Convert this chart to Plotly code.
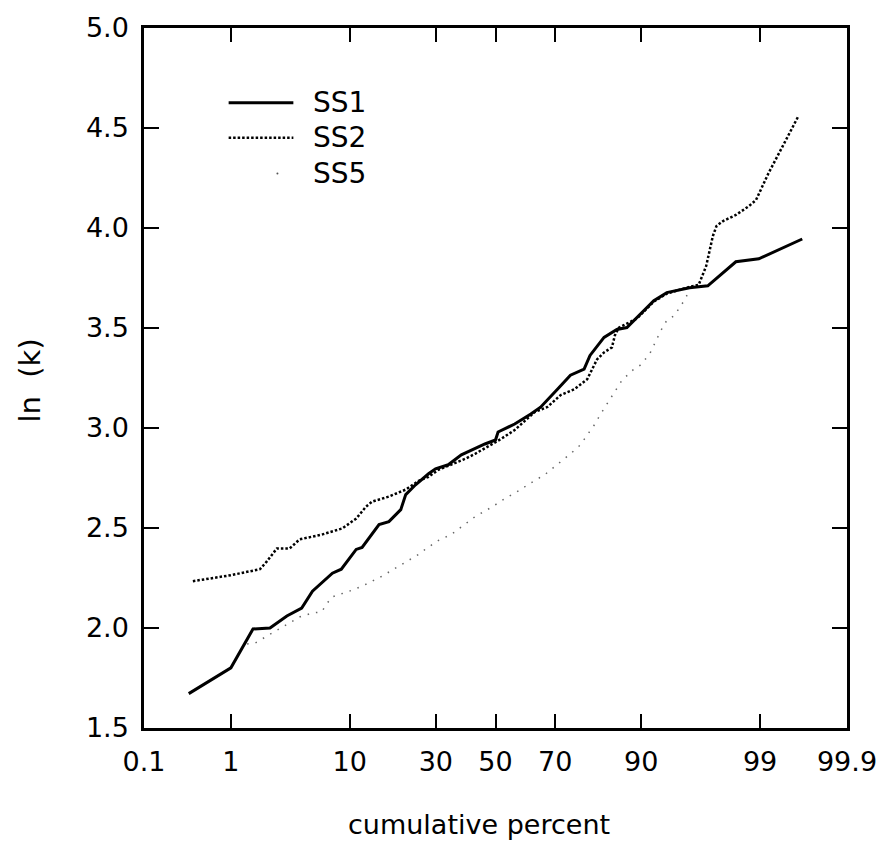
from statistics import NormalDist
import plotly.graph_objects as go

# Cumulative percent (probability scale) and ln(k) for each series
ss1_pct = [0.35, 1.0, 1.65, 2.37, 3.33, 4.42, 5.38, 7.58, 8.76, 11.03, 12.04, 15.29,
           17.43, 20.25, 21.5, 24.1, 27.8, 29.9, 33.9, 38.2, 46.3, 50.0, 50.9, 56.7,
           62.2, 65.4, 70.7, 74.5, 78.2, 79.7, 83.0, 85.7, 87.6, 89.3, 91.8, 93.4,
           95.6, 96.9, 98.27, 98.97, 99.65]
ss1_lnk = [1.672, 1.801, 1.995, 2.0, 2.06, 2.10, 2.184, 2.274, 2.294, 2.393, 2.403, 2.517,
           2.532, 2.592, 2.667, 2.716, 2.771, 2.796, 2.816, 2.866, 2.920, 2.940, 2.980, 3.02,
           3.07, 3.104, 3.194, 3.264, 3.294, 3.363, 3.453, 3.493, 3.502, 3.552, 3.637, 3.677,
           3.701, 3.711, 3.831, 3.846, 3.945]

ss2_pct = [0.39, 1.0, 1.92, 2.22, 2.73, 3.52, 4.25, 5.1, 6.41, 8.9, 10.24, 11.03, 12.76,
           13.9, 17.43, 21.5, 24.96, 27.8, 30.8, 35.5, 39.5, 42.9, 51.9, 56.7, 60.1, 63.5,
           67.6, 71.6, 75.6, 79.0, 81.4, 83.0, 84.7, 85.3, 86.1, 89.3, 91.8, 93.4, 95.3,
           96.3, 96.8, 97.2, 97.4, 97.73, 98.27, 98.71, 98.9, 99.18, 99.42, 99.61]
ss2_lnk = [2.234, 2.264, 2.294, 2.333, 2.398, 2.398, 2.443, 2.453, 2.468, 2.498, 2.532,
           2.547, 2.607, 2.632, 2.657, 2.692, 2.736, 2.756, 2.791, 2.82, 2.846, 2.871, 2.945,
           2.99, 3.035, 3.08, 3.105, 3.164, 3.194, 3.244, 3.343, 3.378, 3.403, 3.463, 3.502,
           3.547, 3.632, 3.672, 3.701, 3.716, 3.81, 3.96, 4.01, 4.035, 4.065, 4.11, 4.14,
           4.274, 4.408, 4.557]

ss5_pct = [1.45, 1.73, 4.25, 5.38, 6.3, 7.45, 9.93, 12.04, 15.9, 20.5, 24.96, 27.2, 30.8,
           34.9, 39.5, 42.9, 48.4, 53.3, 58.8, 61.1, 66.7, 70.7, 74.5, 77.2, 80.9, 82.1,
           84.3, 85.7, 86.7, 88.8, 89.8, 91.2, 93.0, 93.4, 94.2, 95.2, 95.6]
ss5_lnk = [1.92, 1.925, 2.055, 2.075, 2.08, 2.154, 2.184, 2.209, 2.259, 2.318, 2.368,
           2.398, 2.438, 2.468, 2.522, 2.557, 2.602, 2.647, 2.692, 2.716, 2.766, 2.816,
           2.871, 2.915, 3.02, 3.065, 3.144, 3.194, 3.239, 3.294, 3.313, 3.368, 3.512,
           3.537, 3.562, 3.642, 3.69]

tick_pct = [0.1, 1, 10, 30, 50, 70, 90, 99, 99.9]
tick_text = ["0.1", "1", "10", "30", "50", "70", "90", "99", "99.9"]

nd = NormalDist()


def probit(values):
    return [nd.inv_cdf(v / 100.0) for v in values]


FONT = "DejaVu Sans"
SIZE = 27

fig = go.Figure()
fig.add_trace(go.Scatter(x=probit(ss1_pct), y=ss1_lnk, mode="lines", name="SS1",
                         line=dict(color="black", width=3)))
fig.add_trace(go.Scatter(x=probit(ss2_pct), y=ss2_lnk, mode="lines", name="SS2",
                         line=dict(color="black", width=2.5, dash="2.5px,2px")))
fig.add_trace(go.Scatter(x=probit(ss5_pct), y=ss5_lnk, mode="lines", name="SS5",
                         line=dict(color="#666666", width=1.5, dash="1.5px,7px")))

x_lo, x_hi = probit([0.1, 99.9])

fig.update_layout(
    width=889, height=844,
    margin=dict(l=144, r=39, t=26, b=116),
    paper_bgcolor="white", plot_bgcolor="white",
    showlegend=False,
    font=dict(family=FONT, size=SIZE, color="black"),
    xaxis=dict(range=[x_lo, x_hi], tickvals=probit(tick_pct), ticktext=tick_text,
               showgrid=False, zeroline=False, showline=True, linewidth=2.5,
               linecolor="black", mirror="ticks", ticks="inside", ticklen=14,
               tickwidth=2, tickcolor="black", ticklabelstandoff=8),
    yaxis=dict(range=[1.5, 5.0], dtick=0.5, tick0=1.5, tickformat=".1f",
               showgrid=False, zeroline=False, showline=True, linewidth=2.5,
               linecolor="black", mirror="ticks", ticks="inside", ticklen=15,
               tickwidth=2, tickcolor="black", ticklabelstandoff=7),
)

# Axis titles
fig.add_annotation(text="cumulative percent", xref="paper", yref="paper",
                   x=0.476, y=-0.138, xanchor="center", yanchor="middle",
                   showarrow=False, font=dict(family=FONT, size=SIZE))
fig.add_annotation(text="ln\u00a0\u00a0(k)", xref="paper", yref="paper",
                   x=-0.1615, y=0.497, xanchor="center", yanchor="middle",
                   textangle=-90, showarrow=False, font=dict(family=FONT, size=29))


# Key in the upper-left corner
def px_x(p):
    return (p - 144) / 706.0


def px_y(p):
    return (728 - p) / 702.0


key = [("SS1", 101, dict(color="black", width=3)),
       ("SS2", 136, dict(color="black", width=2.5, dash="2.5px,2px"))]
for label, ypix, style in key:
    fig.add_shape(type="line", xref="paper", yref="paper",
                  x0=px_x(229), x1=px_x(294), y0=px_y(ypix), y1=px_y(ypix), line=style)
for label, ypix in [("SS1", 101), ("SS2", 136), ("SS5", 172)]:
    fig.add_annotation(text=label, xref="paper", yref="paper", x=px_x(312), y=px_y(ypix),
                       xanchor="left", yanchor="middle", showarrow=False,
                       font=dict(family=FONT, size=28))
fig.add_shape(type="circle", xref="paper", yref="paper",
              x0=px_x(277), x1=px_x(279), y0=px_y(173), y1=px_y(171),
              line=dict(width=0), fillcolor="#555555")

fig.write_html("out.html")
